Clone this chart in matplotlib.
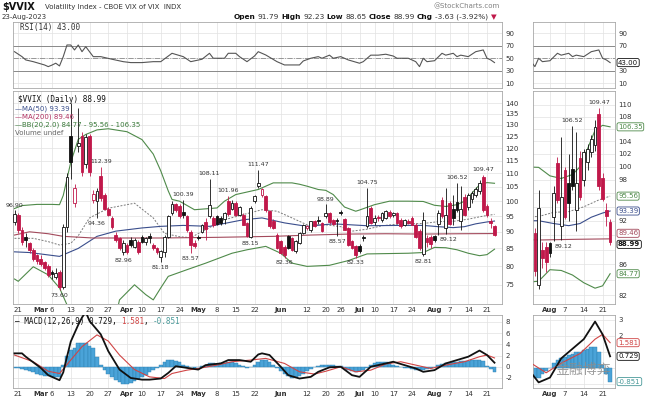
import matplotlib
matplotlib.use("Agg")
import matplotlib.pyplot as plt
from matplotlib.patches import Rectangle
from matplotlib.ticker import NullLocator
import numpy as np
import pandas as pd

W, H = 648, 403

# ---- trading days (Feb 17 .. Aug 23 2023) ----
holidays = pd.to_datetime(["2023-02-20", "2023-04-07", "2023-05-29", "2023-06-19", "2023-07-04"])
days = pd.bdate_range("2023-02-17", "2023-08-23")
days = days[~days.isin(holidays)]
bar_x = np.arange(1, len(days) + 1)

# ---- daily candles ----
opens = [93.0, 95.5, 90.5, 88.5, 86.5, 84.5, 83.0, 82.0, 81.0, 80.0,
         78.5, 77.0, 78.5, 74.5, 91.5, 125.0, 99.5, 121.0, 125.0, 113.5,
         125.0, 100.5, 100.0, 109.0, 102.0, 97.5, 94.5, 89.0, 88.0, 84.0,
         86.0, 87.5, 85.5, 87.0, 88.5, 87.0, 88.8, 86.0, 85.0, 82.5,
         84.0, 88.5, 96.0, 99.0, 98.5, 96.5, 95.0, 89.8, 86.5, 88.5,
         89.9, 93.0, 95.0, 94.4, 94.9, 94.4, 94.0, 100.0, 97.5, 99.5,
         95.5, 95.5, 92.8, 88.3, 100.0, 105.3, 102.3, 101.7, 96.6, 93.3,
         89.1, 87.1, 85.5, 88.6, 88.0, 84.1, 86.6, 89.6, 91.2, 90.7,
         93.3, 93.8, 92.8, 94.9, 96.0, 93.8, 93.8, 96.2, 94.0, 91.2,
         87.1, 85.6, 85.6, 88.3, 91.7, 97.7, 93.0, 94.6, 93.8, 94.4,
         96.3, 95.5, 96.0, 93.8, 92.2, 93.5, 94.4, 92.2, 90.3, 83.3,
         88.0, 88.3, 88.85, 92.6, 100.5, 91.2, 99.5, 97.5, 99.7, 93.5,
         101.3, 98.0, 100.8, 102.3, 103.4, 108.5, 98.3, 93.5, 91.79]
highs = [96.9, 96.0, 91.5, 89.5, 87.0, 85.0, 83.5, 83.0, 81.5, 80.5,
         79.0, 79.5, 79.0, 92.5, 110.0, 140.0, 106.0, 138.0, 127.0, 126.0,
         126.0, 104.0, 104.5, 112.39, 103.0, 98.0, 95.0, 90.0, 88.5, 87.5,
         86.5, 88.5, 88.0, 87.5, 89.0, 88.5, 89.5, 86.5, 85.5, 84.5,
         89.0, 95.5, 100.0, 99.5, 99.0, 100.39, 95.5, 90.5, 87.5, 89.0,
         92.5, 94.5, 108.11, 95.0, 95.5, 95.0, 96.5, 101.96, 100.5, 100.0,
         98.2, 96.0, 93.2, 98.2, 102.0, 111.47, 104.5, 102.0, 97.0, 94.0,
         89.5, 87.6, 86.0, 89.0, 88.5, 87.5, 89.8, 92.5, 92.0, 93.5,
         93.8, 95.0, 93.0, 98.89, 96.5, 94.2, 94.3, 97.0, 94.5, 91.5,
         87.5, 86.0, 86.2, 89.0, 104.75, 98.5, 95.2, 95.5, 96.5, 97.0,
         97.0, 96.5, 96.5, 94.5, 94.2, 94.0, 95.0, 92.8, 91.0, 96.5,
         89.0, 89.0, 89.0, 97.0, 101.5, 104.7, 100.0, 102.0, 106.52, 105.5,
         102.5, 102.8, 103.5, 105.0, 107.5, 109.47, 99.0, 94.5, 92.23]
lows = [92.0, 89.5, 86.0, 85.5, 83.8, 81.5, 80.5, 80.0, 79.0, 77.0,
        76.5, 76.5, 73.6, 74.0, 90.0, 108.0, 98.0, 118.5, 109.0, 112.0,
        109.0, 99.5, 94.36, 100.0, 97.0, 95.0, 91.0, 87.0, 84.5, 82.96,
        83.5, 85.5, 85.0, 83.5, 86.5, 86.0, 86.5, 84.5, 83.5, 81.18,
        82.5, 88.0, 95.5, 96.5, 94.5, 94.5, 90.0, 83.57, 85.0, 87.5,
        89.5, 87.5, 94.5, 91.5, 92.0, 92.2, 92.5, 95.0, 97.0, 95.0,
        95.0, 92.0, 88.5, 88.15, 99.5, 104.5, 101.5, 96.5, 91.2, 90.8,
        84.8, 83.3, 82.36, 84.8, 84.3, 83.8, 86.2, 89.2, 90.5, 90.0,
        91.5, 92.5, 89.8, 94.4, 92.5, 92.0, 88.57, 95.5, 90.5, 85.8,
        84.8, 82.33, 83.8, 87.3, 91.2, 92.3, 92.0, 93.5, 93.2, 94.0,
        94.5, 94.8, 92.5, 91.3, 91.8, 92.5, 92.0, 88.0, 84.5, 82.81,
        85.5, 85.0, 87.0, 89.12, 94.5, 89.3, 92.2, 92.0, 96.5, 90.5,
        95.0, 97.0, 99.5, 101.5, 102.5, 96.5, 94.8, 91.3, 88.65]
closes = [95.8, 90.5, 87.0, 87.5, 84.5, 82.0, 81.5, 80.5, 79.5, 77.5,
          77.8, 78.2, 74.5, 91.5, 108.5, 114.5, 104.5, 122.0, 110.5, 124.5,
          110.5, 102.5, 103.5, 101.0, 97.5, 95.5, 91.5, 87.5, 85.0, 86.5,
          84.0, 86.0, 87.5, 84.0, 87.0, 88.0, 88.2, 85.0, 84.0, 84.2,
          88.5, 95.0, 99.2, 97.0, 95.0, 95.5, 90.7, 86.0, 85.8, 88.1,
          92.0, 91.0, 98.8, 92.1, 92.6, 92.8, 96.0, 95.6, 99.5, 95.5,
          98.0, 92.2, 88.6, 97.7, 101.7, 106.5, 104.1, 97.1, 91.7, 91.2,
          85.1, 83.7, 83.0, 85.1, 84.6, 87.1, 89.6, 92.2, 91.7, 93.3,
          91.7, 93.3, 90.1, 96.0, 93.0, 92.4, 93.3, 96.0, 90.7, 86.1,
          85.1, 83.2, 84.1, 88.1, 94.9, 92.8, 94.5, 94.4, 96.0, 96.6,
          94.9, 96.0, 92.8, 91.7, 93.8, 92.9, 92.2, 88.3, 85.1, 93.8,
          86.8, 86.3, 87.5, 96.0, 95.0, 95.5, 92.6, 94.5, 97.0, 97.5,
          95.5, 102.3, 102.85, 104.45, 106.35, 97.0, 95.2, 92.62, 88.99]

# swing labels: bar index and whether it marks the high or the low
label_bars = [1, 13, 24, 23, 30, 40, 46, 48, 53, 58, 64, 66, 73, 84, 87, 92, 95, 110, 114, 119, 126]
label_kind = ["h", "l", "h", "l", "l", "l", "h", "l", "h", "h", "l", "h", "l", "h", "l", "l", "h", "l", "r", "h", "h"]

# ---- overlays (sampled along the lines) ----
bb_up_idx = [1, 3, 7, 11, 13, 14, 16, 18, 20, 23, 26, 31, 35, 38, 40, 42, 43, 45, 49, 55, 57, 60,
             66, 70, 75, 77, 79, 82, 84, 86, 88, 89, 92, 93, 97, 101, 106, 110, 113, 116, 119,
             121, 123, 125, 127, 129]
bb_up_val = [97.5, 98.5, 98.9, 98.9, 98.8, 102.0, 114.3, 123.7, 125.8, 127.8, 128.3, 127.0, 123.6,
             117.6, 111.0, 103.6, 100.6, 100.0, 97.1, 97.7, 100.0, 102.3, 104.1, 106.5, 106.5, 106.0,
             105.3, 104.1, 103.8, 102.3, 99.4, 98.0, 96.6, 97.0, 98.8, 100.0, 100.0, 99.9, 98.6, 98.2,
             98.8, 100.0, 102.8, 105.8, 106.6, 106.35]
bb_lo_idx = [1, 2, 6, 10, 13, 15, 18, 22, 26, 29, 33, 36, 38, 40, 42, 47, 52, 59, 63, 68, 72, 75,
             79, 85, 90, 95, 106, 110, 113, 116, 119, 122, 125, 127, 129]
bb_lo_val = [76.5, 75.9, 79.8, 77.6, 74.2, 70.0, 62.0, 57.0, 60.0, 71.2, 75.0, 72.5, 71.2, 74.2,
             77.2, 79.0, 80.8, 83.6, 84.6, 85.6, 83.6, 80.8, 79.9, 80.2, 81.5, 83.4, 83.6, 83.8,
             85.3, 85.2, 84.6, 83.6, 82.9, 83.2, 84.77]
bb_mid_idx = [1, 6, 10, 13, 16, 18, 21, 26, 33, 38, 41, 45, 48, 51, 57, 62, 67, 71, 75, 79, 84,
              88, 91, 95, 99, 104, 110, 114, 118, 122, 126, 129]
bb_mid_val = [88.0, 88.0, 87.0, 86.0, 86.5, 88.8, 94.4, 97.6, 99.3, 94.4, 89.5, 88.5, 88.2, 90.1,
              93.8, 95.5, 97.1, 96.6, 94.4, 92.2, 92.2, 91.6, 90.2, 90.8, 91.9, 92.5, 92.6, 93.2,
              93.3, 94.0, 95.0, 95.56]
ma50_idx = [1, 5, 13, 18, 23, 28, 35, 40, 46, 53, 62, 67, 73, 79, 86, 95, 104, 110, 114, 118,
            121, 124, 127, 129]
ma50_val = [84.0, 83.8, 82.7, 85.0, 88.6, 90.2, 91.2, 91.7, 92.0, 91.7, 93.8, 94.4, 92.8, 91.7,
            92.5, 91.9, 92.0, 92.0, 91.6, 91.3, 91.6, 92.5, 93.1, 93.39]
ma200_idx = [1, 5, 10, 14, 22, 40, 55, 70, 80, 90, 100, 110, 120, 129]
ma200_val = [89.0, 90.0, 89.4, 88.6, 88.1, 88.1, 88.3, 88.6, 89.0, 89.3, 89.4, 89.3, 89.4, 89.46]

# ---- RSI(14) ----
rsi_idx = [1, 3, 4, 6, 9, 10, 11, 12, 13, 14, 15, 16, 17, 18, 19, 20, 21, 22, 24, 27, 30, 32, 35,
           38, 40, 43, 46, 48, 51, 53, 54, 57, 58, 60, 61, 63, 65, 66, 68, 71, 73, 77, 78, 80,
           82, 83, 85, 86, 88, 90, 93, 94, 96, 98, 100, 102, 103, 106, 108, 109, 110, 111, 113,
           115, 116, 118, 119, 120, 122, 124, 126, 127, 128, 129]
rsi_val = [60.6, 52.6, 47.3, 44.5, 39.2, 36.5, 39.0, 42.0, 37.6, 52.6, 71.4, 71.4, 63.4, 71.4,
           60.6, 68.7, 60.6, 52.6, 52.6, 48.4, 44.5, 43.0, 43.0, 44.5, 44.5, 58.0, 52.6, 44.5,
           48.4, 58.0, 50.0, 50.0, 58.0, 58.0, 52.6, 44.5, 53.6, 60.6, 55.3, 44.5, 39.2, 39.2,
           45.6, 50.0, 52.6, 50.0, 55.0, 50.0, 52.6, 47.3, 42.0, 44.5, 55.0, 55.0, 56.5, 53.6,
           50.0, 50.0, 44.5, 36.5, 50.0, 44.5, 46.0, 58.0, 55.0, 58.0, 52.6, 55.0, 52.6, 60.6,
           63.4, 50.0, 47.3, 43.0]

# ---- MACD(12,26,9) ----
macd_idx = [1, 3, 4, 8, 10, 13, 14, 15, 16, 18, 19, 20, 21, 24, 26, 29, 32, 35, 37, 40, 42, 44,
            47, 50, 52, 56, 58, 61, 64, 66, 67, 69, 72, 74, 77, 80, 82, 85, 88, 91, 93, 96, 100,
            102, 105, 108, 110, 113, 116, 119, 122, 125, 127, 129]
macd_val = [2.4, 2.4, 1.8, -0.2, -1.5, -2.4, -1.0, 1.8, 4.5, 7.5, 8.8, 9.8, 8.2, 5.8, 2.8, -0.5,
            -2.0, -2.3, -2.3, -2.1, -1.1, 0.1, -0.2, -0.5, 0.3, 0.6, 1.2, 1.2, 0.9, 2.2, 2.4, 2.1,
            0.0, -1.5, -2.1, -1.8, -0.9, -0.1, 0.0, -1.5, -1.8, 0.0, 0.6, 0.9, 0.3, -0.3, -0.9,
            -0.6, 0.6, 1.2, 1.8, 2.9, 2.1, 0.729]
sig_idx = [1, 6, 10, 13, 16, 19, 23, 26, 29, 33, 37, 41, 43, 47, 50, 55, 59, 64, 68, 73, 77, 81,
           84, 88, 92, 96, 100, 104, 108, 112, 116, 121, 125, 127, 129]
sig_val = [2.1, 0.9, -0.8, -1.2, 1.2, 3.6, 5.7, 4.6, 2.1, -0.5, -1.8, -2.1, -1.2, -0.6, -0.3, 0.3,
           0.9, 1.2, 1.5, 0.6, -0.9, -1.3, -0.8, 0.0, -0.9, -0.6, 0.5, 0.9, 0.3, -0.3, 0.3, 0.9,
           1.8, 2.1, 1.581]
hist_val = [-0.2, -0.3, -0.4, -0.6, -0.8, -1.0, -1.2, -1.4, -1.6, -1.7,
            -1.8, -1.9, -1.9, 0.3, 2.0, 3.0, 3.4, 4.2, 4.2, 4.3,
            3.8, 3.4, 1.8, 0.3, -0.6, -1.2, -1.8, -2.3, -2.7, -3.0,
            -3.0, -2.9, -2.6, -2.2, -1.8, -1.4, -1.0, -0.6, -0.2, 0.4,
            0.8, 1.2, 1.2, 1.1, 0.8, 0.4, 0.1, -0.1, -0.2, -0.1,
            0.1, 0.3, 0.6, 0.6, 0.5, 0.6, 0.7, 0.8, 0.8, 0.6,
            0.4, 0.1, -0.3, -0.1, 0.4, 0.9, 1.2, 1.2, 0.8, 0.3,
            -0.3, -0.8, -1.3, -1.7, -2.0, -1.9, -1.6, -1.2, -0.8, -0.4,
            -0.1, 0.1, 0.3, 0.4, 0.4, 0.3, 0.2, 0.1, -0.2, -0.5,
            -0.8, -0.9, -0.8, -0.6, -0.2, 0.4, 0.6, 0.8, 0.9, 0.8,
            0.6, 0.4, 0.1, -0.1, -0.2, -0.3, -0.4, -0.5, -0.6, -0.6,
            -0.4, -0.2, 0.0, 0.3, 0.5, 0.6, 0.7, 0.8, 0.9, 1.0,
            1.0, 1.1, 1.2, 1.3, 1.3, 1.0, 0.2, -0.4, -0.851]

main_tick_dates = ["2023-02-21", "2023-03-01", "2023-03-06", "2023-03-13", "2023-03-20", "2023-03-27",
                   "2023-04-03", "2023-04-10", "2023-04-17", "2023-04-24", "2023-05-01", "2023-05-08",
                   "2023-05-15", "2023-05-22", "2023-06-01", "2023-06-12", "2023-06-20", "2023-06-26",
                   "2023-07-03", "2023-07-10", "2023-07-17", "2023-07-24", "2023-08-01", "2023-08-07",
                   "2023-08-14", "2023-08-21"]
main_tick_labels = ["21", "Mar", "6", "13", "20", "27", "Apr", "10", "17", "24", "May", "8", "15",
                    "22", "Jun", "12", "20", "26", "Jul", "10", "17", "24", "Aug", "7", "14", "21"]
zoom_tick_dates = ["2023-08-01", "2023-08-07", "2023-08-14", "2023-08-21"]
zoom_tick_labels = ["Aug", "7", "14", "21"]
months = {"Mar", "Apr", "May", "Jun", "Jul", "Aug"}

RED = "#c0184a"
BLACK = "#111111"
GREEN = "#4f8a4a"
BLUE = "#3a4e8c"
MAROON = "#a34a5c"
GRID = "#e2e2e2"
TXT = "#333333"


def bar_of(d):
    return int(days.get_loc(pd.Timestamp(d))) + 1


fig = plt.figure(figsize=(W / 100, H / 100), dpi=100)
fig.patch.set_facecolor("white")


def panel(x0, y0, x1, y1):
    ax = fig.add_axes([x0 / W, 1 - y1 / H, (x1 - x0) / W, (y1 - y0) / H])
    for s in ax.spines.values():
        s.set_color("#a8a8a8")
        s.set_linewidth(0.6)
    ax.tick_params(length=0, labelsize=5, colors=TXT, pad=2.5)
    ax.yaxis.tick_right()
    ax.set_axisbelow(True)
    ax.grid(True, color=GRID, lw=0.5)
    return ax


def set_xticks(ax, dates, labels, show):
    ax.set_xticks([bar_of(d) for d in dates])
    if show:
        ax.set_xticklabels(labels)
        for t in ax.get_xticklabels():
            if t.get_text() in months:
                t.set_fontweight("bold")
    else:
        ax.set_xticklabels([])


def set_yticks(ax, grid_ticks, shown):
    # grid at every tick, labels only where no value box covers them
    ax.set_yticks(grid_ticks)
    ax.set_yticklabels([f"{t:g}" if t in shown else "" for t in grid_ticks])
    ax.yaxis.set_minor_locator(NullLocator())


def draw_price(ax):
    prev = [closes[0]] + closes[:-1]
    for xi, o, h, l, c, p in zip(bar_x, opens, highs, lows, closes, prev):
        col = BLACK if c >= p else RED
        ax.vlines(xi, l, h, color=col, lw=0.6, zorder=3)
        lo, hi = min(o, c), max(o, c)
        hi = max(hi, lo * 1.003)
        face = "white" if c > o else col
        ax.add_patch(Rectangle((xi - 0.36, lo), 0.72, hi - lo, fc=face, ec=col, lw=0.6, zorder=4))
    ax.plot(bb_up_idx, bb_up_val, color=GREEN, lw=0.8, zorder=2)
    ax.plot(bb_lo_idx, bb_lo_val, color=GREEN, lw=0.8, zorder=2)
    ax.plot(bb_mid_idx, bb_mid_val, color="#7a7a7a", lw=0.7, ls=(0, (2, 1.5)), zorder=2)
    ax.plot(ma50_idx, ma50_val, color=BLUE, lw=0.8, zorder=2)
    ax.plot(ma200_idx, ma200_val, color=MAROON, lw=0.8, zorder=2)


def swing_labels(ax, bars):
    for b, k in zip(label_bars, label_kind):
        if b not in bars:
            continue
        if k == "h":
            v, off, ha, va = highs[b - 1], (0, 2), "center", "bottom"
        elif k == "l":
            v, off, ha, va = lows[b - 1], (0, -2), "center", "top"
        else:
            v, off, ha, va = lows[b - 1], (1, -2), "left", "top"
        ax.annotate(f"{v:.2f}", (b, v), xytext=off, textcoords="offset points",
                    ha=ha, va=va, fontsize=4.5, color=TXT, zorder=6)


def draw_rsi(ax):
    ax.plot(rsi_idx, rsi_val, color="#555555", lw=0.8, zorder=3)
    ax.axhline(70, color="#8a8a8a", lw=0.7, zorder=2)
    ax.axhline(30, color="#8a8a8a", lw=0.7, zorder=2)
    ax.axhline(50, color="#8a8a8a", lw=0.6, ls="-.", zorder=2)
    ax.set_ylim(2, 108.5)


def draw_macd(ax):
    ax.bar(bar_x, hist_val, width=1.0, color="#4aa3d8", edgecolor="#2d7fb0", lw=0.3, zorder=2)
    ax.plot(sig_idx, sig_val, color="#d04545", lw=0.8, zorder=3)
    ax.plot(macd_idx, macd_val, color=BLACK, lw=1.3, zorder=4)


def value_box(ax, v, s, color, bold=False, dy=0):
    # last-value tag just right of the panel; dy (points) nudges tags apart
    ax.annotate(s, (1.0, v), xycoords=("axes fraction", "data"),
                xytext=(2.2, dy), textcoords="offset points",
                fontsize=5, color=color, ha="left", va="center",
                fontweight="bold" if bold else "normal", annotation_clip=False, zorder=10,
                bbox=dict(boxstyle="round,pad=0.15,rounding_size=0.25", fc="white", ec=color, lw=0.6))


# ---- left (full period) panels ----
rsi = panel(13, 22, 502, 88)
draw_rsi(rsi)
set_yticks(rsi, [10, 30, 50, 70, 90], [10, 30, 50, 70, 90])
rsi.set_xlim(0.6, 131)
set_xticks(rsi, main_tick_dates, main_tick_labels, False)

price = panel(13, 91, 502, 304)
draw_price(price)
swing_labels(price, range(1, 130))
price.set_yscale("log")
price.set_ylim(70.2, 146.1)
pt = list(range(75, 141, 5))
set_yticks(price, pt, pt)
price.set_xlim(0.6, 131)
set_xticks(price, main_tick_dates, main_tick_labels, True)

macd = panel(13, 315, 502, 388)
draw_macd(macd)
macd.set_ylim(-3.79, 9.25)
set_yticks(macd, [-2, 0, 2, 4, 6, 8], [-2, 0, 2, 4, 6, 8])
macd.set_xlim(0.6, 131)
set_xticks(macd, main_tick_dates, main_tick_labels, True)

# ---- right (zoomed last weeks) panels ----
rsi_r = panel(533, 22, 615, 88)
draw_rsi(rsi_r)
set_yticks(rsi_r, [10, 30, 50, 70, 90], [10, 30, 70, 90])
rsi_r.set_xlim(108.5, 130.3)
set_xticks(rsi_r, zoom_tick_dates, zoom_tick_labels, False)
value_box(rsi_r, 43.0, "43.00", BLACK)

price_r = panel(533, 91, 615, 304)
draw_price(price_r)
swing_labels(price_r, [114, 119, 126])
price_r.set_yscale("log")
price_r.set_ylim(80.9, 112.4)
rt = list(range(82, 111, 2))
set_yticks(price_r, rt, [82, 86, 92, 98, 100, 102, 104, 108, 110])
price_r.set_xlim(108.5, 130.3)
set_xticks(price_r, zoom_tick_dates, zoom_tick_labels, True)
value_box(price_r, 106.35, "106.35", GREEN)
value_box(price_r, 95.56, "95.56", GREEN)
value_box(price_r, 93.39, "93.39", BLUE)
value_box(price_r, 89.46, "89.46", MAROON, dy=4.0)
value_box(price_r, 88.99, "88.99", BLACK, bold=True, dy=-1.5)
value_box(price_r, 84.77, "84.77", GREEN)

macd_r = panel(533, 315, 615, 388)
draw_macd(macd_r)
macd_r.set_ylim(-1.25, 3.31)
set_yticks(macd_r, [-1, 0, 1, 2, 3], [2, 3])
macd_r.set_xlim(108.5, 130.3)
set_xticks(macd_r, zoom_tick_dates, zoom_tick_labels, True)
value_box(macd_r, 1.581, "1.581", "#d04545")
value_box(macd_r, 0.729, "0.729", BLACK)
value_box(macd_r, -0.851, "-0.851", "#4a9a9a")


# ---- header and legends (figure pixel positions) ----
def ftxt(x, y, s, **kw):
    kw.setdefault("va", "center")
    kw.setdefault("color", TXT)
    return fig.text(x / W, 1 - y / H, s, **kw)


def mono_row(x, y, pieces, size=5.5):
    step = 0.602 * size * 100 / 72
    for s, col in pieces:
        ftxt(x, y, s, fontsize=size, family="DejaVu Sans Mono", color=col)
        x += len(s) * step


def flow_row(x, y, pieces, size, gap=2.0):
    # lay pieces out one after another using their rendered widths
    renderer = fig.canvas.get_renderer()
    for s, bold, col in pieces:
        t = ftxt(x, y, s, fontsize=size, fontweight="bold" if bold else "normal", color=col)
        x += t.get_window_extent(renderer).width + gap


ftxt(2, 7.5, "$VVIX", fontsize=7, fontweight="bold", color=BLACK)
ftxt(45, 7.5, "Volatility Index - CBOE VIX of VIX  INDX", fontsize=5)
ftxt(2, 17, "23-Aug-2023", fontsize=5)
ftxt(433, 6.5, "@StockCharts.com", fontsize=5, color="#808080")
flow_row(234, 17, [("Open", True, BLACK), ("91.79", False, TXT), ("High", True, BLACK),
                   ("92.23", False, TXT), ("Low", True, BLACK), ("88.65", False, TXT),
                   ("Close", True, BLACK), ("88.99", False, TXT), ("Chg", True, BLACK),
                   ("-3.63 (-3.92%)", False, TXT), ("\u25bc", False, RED)], size=5.3, gap=2.2)

mono_row(20, 27.5, [("RSI(14) 43.00", TXT)])
mono_row(18, 100, [("$VVIX (Daily) 88.99", BLACK)])
ftxt(15, 108.5, "\u2014MA(50) 93.39", fontsize=5, color=BLUE)
ftxt(15, 116.8, "\u2014MA(200) 89.46", fontsize=5, color="#b03060")
ftxt(15, 125, "\u2014BB(20,2.0) 84.77 - 95.56 - 106.35", fontsize=5, color="#3a7a3a")
ftxt(15, 133.3, "Volume undef", fontsize=5, color="#666666")
mono_row(15, 321.5, [("\u2014 MACD(12,26,9) 0.729, ", BLACK), ("1.581", "#d04545"),
                     (", ", BLACK), ("-0.851", "#4a9a9a")])

ftxt(583, 370, "金融博弈", fontsize=10, ha="center", color="#8c8c8c", alpha=0.85,
     family=["Noto Sans CJK SC", "DejaVu Sans"])

fig.savefig("out.png", dpi=100)
